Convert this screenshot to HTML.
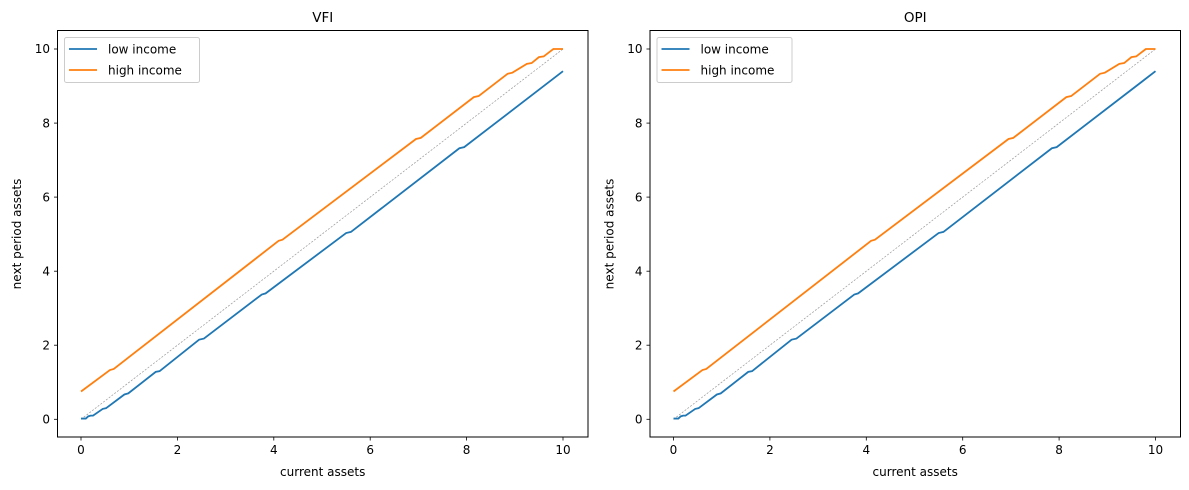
<!DOCTYPE html>
<html><head><style>body{margin:0;background:#fff}svg{display:block}text{font-family:"DejaVu Sans","Liberation Sans",sans-serif;fill:#000}</style></head>
<body>
<svg width="1189" height="490" viewBox="0 0 1189 490">
<defs>
<g id="panel">
  <rect x="57.5" y="30.5" width="530.5" height="406.5" fill="none" stroke="#000" stroke-width="1"/>
  <g stroke="#000" stroke-width="0.8">
    <line x1="81" y1="437" x2="81" y2="440.5"/><line x1="177.4" y1="437" x2="177.4" y2="440.5"/><line x1="273.8" y1="437" x2="273.8" y2="440.5"/><line x1="370.2" y1="437" x2="370.2" y2="440.5"/><line x1="466.6" y1="437" x2="466.6" y2="440.5"/><line x1="563" y1="437" x2="563" y2="440.5"/>
    <line x1="54" y1="419.3" x2="57.5" y2="419.3"/><line x1="54" y1="345.2" x2="57.5" y2="345.2"/><line x1="54" y1="271.2" x2="57.5" y2="271.2"/><line x1="54" y1="197.1" x2="57.5" y2="197.1"/><line x1="54" y1="123.1" x2="57.5" y2="123.1"/><line x1="54" y1="49" x2="57.5" y2="49"/>
  </g>
  <g font-size="12" text-anchor="middle">
    <text x="81" y="454">0</text><text x="177.4" y="454">2</text><text x="273.8" y="454">4</text><text x="370.2" y="454">6</text><text x="466.6" y="454">8</text><text x="563" y="454">10</text>
  </g>
  <g font-size="12" text-anchor="end">
    <text x="50" y="423.5">0</text><text x="50" y="349.4">2</text><text x="50" y="275.4">4</text><text x="50" y="201.3">6</text><text x="50" y="127.3">8</text><text x="50" y="53.2">10</text>
  </g>
  <text x="322.7" y="476" font-size="12" text-anchor="middle">current assets</text>
  <text transform="translate(21,234) rotate(-90)" font-size="12" text-anchor="middle">next period assets</text>
  <g transform="translate(81,419.3) scale(48.2,-37.03)" fill="none">
    <polyline vector-effect="non-scaling-stroke" stroke="#999" stroke-width="0.7" stroke-dasharray="2,1.5" points="0,0 10,10"/>
    <polyline vector-effect="non-scaling-stroke" stroke="#1f77b4" stroke-width="1.8" points="0,0.02 0.1,0.02 0.15,0.08 0.2,0.1 0.25,0.1 0.45,0.28 0.52,0.3 0.9,0.67 0.98,0.7 1.55,1.28 1.63,1.3 2.45,2.15 2.55,2.18 3.75,3.37 3.83,3.4 5.5,5.03 5.6,5.06 7.85,7.32 7.95,7.35 10,9.4"/>
    <polyline vector-effect="non-scaling-stroke" stroke="#ff7f0e" stroke-width="1.8" points="0,0.75 0.6,1.33 0.68,1.36 4.1,4.82 4.18,4.85 6.95,7.57 7.05,7.6 8.15,8.7 8.25,8.73 8.85,9.33 8.95,9.36 9.25,9.6 9.35,9.62 9.5,9.78 9.6,9.8 9.7,9.9 9.8,10 10,10"/>
  </g>
  <rect x="64.5" y="37.5" width="135" height="45" rx="2" fill="#fff" stroke="#ccc" stroke-width="1"/>
  <line x1="69" y1="49" x2="97" y2="49" stroke="#1f77b4" stroke-width="1.8"/>
  <line x1="69" y1="70" x2="97" y2="70" stroke="#ff7f0e" stroke-width="1.8"/>
  <text x="108" y="53.5" font-size="12">low income</text>
  <text x="108" y="74.5" font-size="12">high income</text>
</g>
</defs>
<use href="#panel"/>
<use href="#panel" transform="translate(592.5,0)"/>
<text x="322.7" y="22" font-size="13.5" text-anchor="middle">VFI</text>
<text x="915.2" y="22" font-size="13.5" text-anchor="middle">OPI</text>
</svg>
</body></html>
